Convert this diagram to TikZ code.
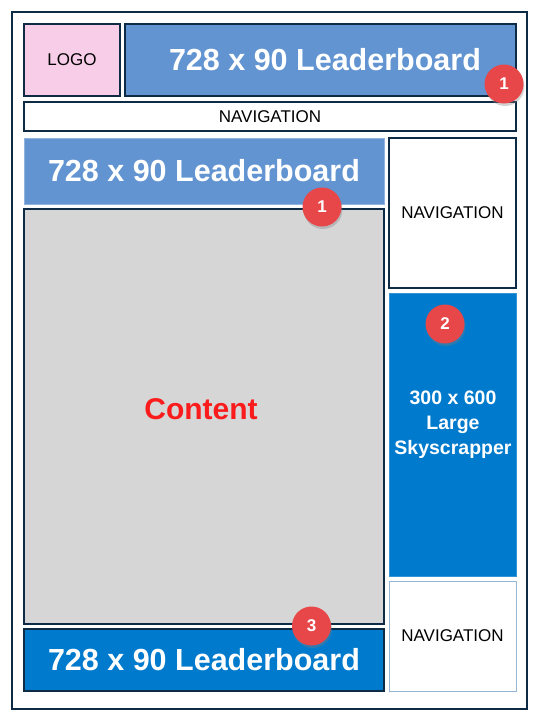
\documentclass[tikz,border=0pt]{standalone}
\usepackage{fontspec}
\setmainfont{Liberation Sans}
\usepackage{xcolor}
\usetikzlibrary{shadows}
\definecolor{deepnavy}{RGB}{13,43,69}
\definecolor{softblue}{RGB}{98,148,209}
\definecolor{adblue}{RGB}{0,122,204}
\definecolor{logopink}{RGB}{247,205,232}
\definecolor{contentgray}{RGB}{214,214,214}
\definecolor{badgered}{RGB}{232,71,74}
\definecolor{contentred}{RGB}{250,28,28}
\definecolor{paleedge}{RGB}{150,182,214}

\begin{document}
\begin{tikzpicture}[
  x=1pt, y=-1pt,
  every node/.style={inner sep=0pt, outer sep=0pt},
  slot/.style={draw=deepnavy, line width=1.6pt, fill=white, font=\fontsize{17}{20}\selectfont},
  banner/.style={slot, fill=softblue, text=white, font=\fontsize{30.5}{34}\selectfont\bfseries},
  badge/.style={circle, fill=badgered, minimum size=39pt, text=white,
    font=\fontsize{17}{20}\selectfont\bfseries,
    drop shadow={opacity=.35, shadow xshift=1pt, shadow yshift=-2.5pt}}
]
\useasboundingbox (0,0) rectangle (540,720);
\node[draw=deepnavy, line width=1.8pt, minimum width=515pt, minimum height=697pt] (frame) at (269.5,360.5) {};
% header
\node[slot, fill=logopink, minimum width=96pt, minimum height=72pt] (logo) at (72,60) {LOGO};
\node[banner, minimum width=391pt, minimum height=72pt] (topboard) at (320.5,60) {\hspace*{9pt}728 x 90 Leaderboard};
\node[slot, minimum width=492pt, minimum height=29pt] (topnav) at (270,116.5) {NAVIGATION};
% main column
\node[banner, draw=softblue!70!white, line width=.8pt, minimum width=360pt, minimum height=66pt] (midboard) at (204,171) {728 x 90 Leaderboard};
\node[slot, fill=contentgray, minimum width=360pt, minimum height=415pt] (content) at (204,416.5) {};
\node[text=contentred, font=\fontsize{30}{34}\selectfont\bfseries] (contenttext) at (201,409) {Content};
\node[banner, fill=adblue, minimum width=360pt, minimum height=62pt] (lowboard) at (204,660) {728 x 90 Leaderboard};
% side column
\node[slot, minimum width=127pt, minimum height=150pt] (sidenav) at (452.5,213) {NAVIGATION};
\node[banner, fill=adblue, draw=adblue!80!white, line width=.8pt, minimum width=127pt, minimum height=283pt] (sky) at (452.5,434.5) {};
\node[text=white, align=center, font=\fontsize{19.5}{25}\selectfont\bfseries] (skytext) at (453,425) {300 x 600\\Large\\Skyscrapper};
\node[slot, draw=paleedge, line width=.8pt, minimum width=127pt, minimum height=110pt] (lownav) at (452.5,636) {NAVIGATION};
% placement markers
\node[badge] (markA) at (504,84) {1};
\node[badge] (markB) at (322,207) {1};
\node[badge] (markC) at (445,324) {2};
\node[badge] (markD) at (311.5,626) {3};
\end{tikzpicture}
\end{document}
